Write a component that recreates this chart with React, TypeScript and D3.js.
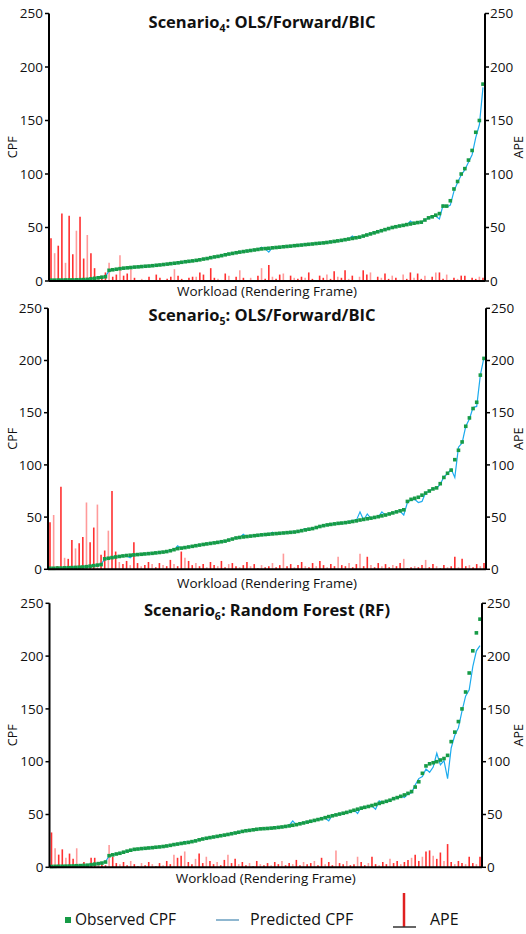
import React from 'react';
import * as d3 from 'd3';

// Scenario 4: OLS/Forward/BIC
const obs4 = [
  0.8, 0.8, 0.9, 0.9, 1, 1, 1, 1.1, 1.2, 1.3, 1.5, 2, 2.5, 3, 3.5, 4,
  10, 10.5, 11, 11.5, 12, 12.3, 12.6, 13,
  13.2, 13.5, 13.8, 14, 14.3, 14.7, 15, 15.4, 15.8,
  16.2, 16.6, 17, 17.5, 18, 18.4, 18.8, 19.3, 19.8,
  20.5, 21, 21.8, 22.5, 23, 23.7, 24.5, 25.2, 25.8,
  26.4, 27, 27.5, 28, 28.5, 29, 29.5, 30,
  30.3, 30.6, 31, 31.3, 31.6, 32, 32.3, 32.6, 33,
  33.3, 33.6, 34, 34.3, 34.6, 35, 35.3, 35.6, 36,
  36.5, 37, 37.5, 38, 38.6, 39.2, 39.8, 40.4, 41,
  42, 43, 44, 45, 46, 47, 48, 49, 50,
  50.7, 51.4, 52, 52.7, 53.3, 54, 54.6,
  55, 57, 59, 60, 61.5, 63,
  70, 70, 75, 86, 93, 100, 105, 113, 122, 139, 150, 184,
];
const pred4 = [
  1, 0.5, 1, 1.2, 0.8, 1, 1.3, 1, 1.2, 1.5, 1.4, 2.2, 2.4, 3.2, 3.4, 4.2,
  9.5, 10.8, 10.6, 12, 11.6, 12.8, 12.2, 13.4,
  12.8, 13.9, 13.5, 14.4, 14, 15.1, 14.6, 15.8, 15.5,
  16.8, 16.3, 17.4, 17.2, 18.5, 18, 19.2, 19, 20.2,
  20.2, 21.4, 21.5, 22, 23.4, 23.2, 24.8, 24.8, 26.3,
  26, 27.5, 27.2, 28.6, 28.1, 29.5, 29.1, 31.5,
  30, 27, 31.4, 31, 32, 31.7, 32.8, 32.2, 33.6,
  33, 34.2, 33.7, 34.9, 34.2, 35.6, 35, 36.1, 35.5,
  37, 36.6, 38, 37.6, 39.2, 38.8, 42, 40, 41.5,
  41.5, 43.6, 43.5, 45.6, 45.5, 47.4, 47.6, 49.6, 49.5,
  51.4, 51, 52.8, 52.2, 56, 53.6, 55.3,
  54.5, 57.5, 58.6, 60.8, 60.5, 58,
  71, 69, 71, 84, 92, 99, 104, 111, 118, 134, 146, 181,
];
const ape4 = [
  40, 26, 33, 63, 17, 61, 25, 47, 60, 21, 43, 26, 12, 3, 5, 8, 17, 4, 6, 24,
  5, 7, 11, 3, 0, 2, 1, 4, 0, 6, 3, 0, 2, 4, 11, 5, 2, 0, 3, 4,
  4, 8, 6, 0, 12, 3, 2, 1, 7, 5, 0, 4, 10, 3, 1, 3, 0, 5, 12, 2,
  15, 4, 2, 6, 7, 1, 5, 3, 2, 4, 3, 8, 2, 1, 5, 3, 6, 2, 9, 4,
  3, 10, 2, 5, 1, 4, 10, 6, 8, 0, 4, 3, 7, 2, 5, 3, 1, 6, 2, 8,
  3, 7, 2, 5, 1, 4, 8, 8, 2, 6, 1, 3, 2, 5, 5, 1, 3, 2, 4, 3,
];

// Scenario 5: OLS/Forward/BIC
const obs5 = [
  1, 1, 1.2, 1.2, 1.4, 1.5, 1.6, 1.8, 2, 2.2, 2.5, 3, 3.5, 4,
  4.5,
  10, 10.6, 11.2, 11.8, 12.3, 12.8, 13.2,
  13.5, 13.8, 14.1, 14.4, 14.7, 15, 15.3,
  15.7, 16.1, 16.5, 17, 17.8, 18.8, 19.8,
  20.3, 20.8, 21.4, 22, 22.6, 23.2, 23.8,
  24.3, 24.8, 25.3, 25.8, 26.4, 27, 28, 29, 30,
  30.5, 31, 31.4, 31.8, 32.2, 32.6, 33,
  33.3, 33.6, 33.9, 34.2, 34.5, 34.8, 35.1, 35.4, 35.7,
  36.3, 37, 37.7, 38.4, 39, 40, 41, 41.8, 42.5,
  43, 43.5, 44, 44.3, 44.7, 45.2, 45.8, 46.4, 47.2,
  47.8, 48.4, 49, 49.7, 50.4, 51.2, 52, 53, 54,
  55, 56, 57,
  65, 67, 68, 69,
  71, 73, 75, 77, 78, 82,
  88, 92, 95, 105, 114, 122, 137, 145, 154, 160, 186, 202,
];
const pred5 = [
  1.5, 0.8, 1.5, 1, 1.8, 1.2, 2, 1.6, 2.3, 2, 2.8, 2.8, 3.8, 3.6,
  5,
  9.5, 11, 10.8, 12.2, 12, 13.2, 12.8,
  11, 14.2, 13.8, 14.8, 14.3, 15.5, 15,
  16.2, 15.8, 17, 16.7, 18.4, 18.4, 22.5,
  20, 21.5, 21, 22.5, 22.2, 23.8, 23.5,
  24.8, 24.5, 25.8, 25.4, 27, 26.6, 28.6, 28.6, 30.5,
  30.2, 33.5, 31, 32.4, 31.8, 33.2, 32.6,
  33.8, 33, 35.5, 33.8, 35, 34.5, 35.6, 35, 36.3,
  35.8, 37.6, 39, 38, 39.6, 39.5, 41.5, 41.2, 43,
  42.5, 44, 43.6, 44.8, 44, 45.8, 47, 46.8, 55,
  47.2, 53, 48.6, 50.3, 50, 55, 51.6, 53.5, 53.5,
  55.6, 55.5, 52,
  64, 66.5, 67, 64,
  65, 73.5, 74.5, 77.5, 77.5, 81.5,
  88.5, 91.5, 96, 88, 117, 121, 137, 144, 155, 156, 186, 203,
];
const ape5 = [
  45, 52, 3, 79, 11, 10, 28, 20, 25, 31, 64, 26, 40, 62, 14, 18, 37, 75, 17, 7,
  5, 8, 4, 26, 6, 3, 4, 7, 5, 2, 6, 4, 3, 9, 5, 3, 17, 11, 8, 4,
  6, 3, 5, 2, 7, 4, 3, 8, 2, 5, 6, 3, 2, 4, 7, 3, 5, 1, 4, 2,
  3, 6, 2, 4, 15, 3, 5, 2, 4, 7, 3, 2, 6, 3, 8, 4, 2, 5, 3, 12,
  4, 3, 6, 2, 5, 15, 3, 12, 4, 2, 6, 3, 5, 2, 4, 3, 6, 10, 1, 2,
  3, 2, 4, 9, 2, 5, 3, 1, 4, 2, 3, 12, 2, 10, 3, 4, 2, 5, 3, 6,
];

// Scenario 6: Random Forest (RF)
const obs6 = [
  0.8, 0.9, 1, 1, 1.1, 1.2, 1.3, 1.5, 1.6, 1.8, 2, 2.5, 3, 3.5, 4,
  5,
  11, 11.8, 12.6, 13.3,
  14.3, 15.3, 16.2, 17,
  17.3, 17.7, 18, 18.3, 18.6,
  19, 19.3, 19.7, 20.2, 20.8,
  21.5, 22, 22.6, 23.1, 23.6,
  24.3, 25, 26, 26.8, 27.5,
  28.1, 28.7, 29.3, 29.9, 30.5, 31.1, 31.8,
  32.5, 33.2, 34, 34.6, 35, 35.5, 36, 36.4,
  36.6, 36.8, 37.1, 37.4, 37.8, 38.2, 38.7, 39.2, 39.8,
  40.4, 41.2, 42, 42.8, 43.6, 44.4, 45.2, 46, 47, 48,
  48.8, 49.6, 50.4, 51.2, 52, 53, 54, 55, 56,
  56.8, 57.6, 58.5, 59.5, 60.5, 61.5, 62.5, 63.5, 65,
  66, 67.2, 68.5, 70, 71.7,
  76, 81, 89, 96,
  98, 99, 100, 101.6, 103, 106,
  119, 128, 138, 150, 166, 184, 205, 222, 235,
];
const pred6 = [
  1, 0.6, 1.2, 0.8, 1.3, 1, 1.5, 1.3, 1.8, 1.6, 2.3, 2.4, 3.2, 3.4, 4.3,
  5.5,
  10.5, 12.2, 12.3, 13.8,
  14, 15.8, 16, 17.3,
  17, 18.1, 17.8, 18.8, 18.4,
  19.4, 19, 20.2, 20, 21.5,
  21, 22.6, 22.3, 24.5, 23.3,
  24, 25.5, 25.6, 27.5, 27.2,
  28.5, 28.4, 29.8, 29.5, 30.8, 30.7, 32.2,
  32.2, 33.8, 33.7, 35.2, 34.8, 35.8, 35.8, 36.8,
  36.4, 37.3, 36.8, 38, 37.5, 38.6, 38.3, 39.6, 44,
  40, 41.8, 41.6, 43.5, 43, 45, 44.8, 46.8, 46.5, 44,
  49.5, 49.2, 51, 50.8, 52.8, 52.2, 54.6, 51, 56.8,
  56.5, 58.2, 58, 55, 63, 61, 63.2, 63, 65.5,
  65.5, 67.8, 66, 69.5, 70.5,
  78, 84, 86, 93,
  90, 95, 108, 97, 101, 84,
  113, 125, 132, 148, 162, 168, 190, 205, 210,
];
const ape6 = [
  33, 18, 12, 17, 9, 13, 8, 18, 3, 5, 2, 9, 9, 4, 3, 2, 21, 10, 4, 3,
  5, 2, 6, 3, 1, 4, 2, 5, 3, 1, 4, 2, 6, 3, 12, 9, 11, 15, 5, 3,
  8, 13, 4, 10, 6, 3, 5, 2, 7, 12, 4, 8, 3, 5, 2, 4, 1, 6, 3, 2,
  4, 2, 5, 3, 6, 2, 4, 3, 7, 2, 5, 3, 4, 6, 2, 9, 3, 5, 2, 16,
  4, 3, 6, 2, 3, 10, 5, 2, 4, 10, 3, 2, 5, 3, 8, 4, 6, 3, 5, 7,
  9, 12, 6, 10, 15, 16, 11, 8, 14, 6, 22, 5, 3, 6, 4, 3, 10, 4, 3, 10,
];

const FONT = "'Open Sans', sans-serif";
const GREEN = '#169b46';
const BLUE = '#1cabee';

type PanelProps = {
  sub: string;
  rest: string;
  obs: number[];
  pred: number[];
  ape: number[];
  left: number;
  right: number;
  top: number;
  bottom: number;
  titleY: number;
  titleX: number;
  labelY: number;
};

const Panel = ({ sub, rest, obs, pred, ape, left, right, top, bottom, titleY, titleX, labelY }: PanelProps) => {
  const x = d3.scaleLinear().domain([0, obs.length - 1]).range([left + 2, right - 2]);
  const y = d3.scaleLinear().domain([0, 250]).range([bottom, top]);
  const ticks = y.ticks(5);
  const line = d3.line<number>().x((_, i) => x(i)).y(d => y(d));
  const mid = (top + bottom) / 2;

  return (
    <g>
      {/* APE bars */}
      {ape.map((v, i) => (
        <line key={'a' + i} x1={x(i)} x2={x(i)} y1={y(0)} y2={y(v)}
          stroke={i % 3 === 1 ? '#ff9a9a' : '#ff3030'} strokeWidth={1.6} />
      ))}
      <path d={line(pred) || ''} fill="none" stroke={BLUE} strokeWidth={1.2} />
      {obs.map((v, i) => (
        <rect key={'o' + i} x={x(i) - 1.8} y={y(v) - 1.8} width={3.6} height={3.6} fill={GREEN} />
      ))}

      {/* axes */}
      <line x1={left} x2={left} y1={top} y2={bottom} stroke="#000" strokeWidth={2} />
      <line x1={right} x2={right} y1={top} y2={bottom} stroke="#000" strokeWidth={2} />
      <line x1={left} x2={right} y1={bottom} y2={bottom} stroke="#000" strokeWidth={2} />
      {ticks.map(t => (
        <g key={'t' + t}>
          <line x1={left - 4} x2={left} y1={y(t)} y2={y(t)} stroke="#000" strokeWidth={1.5} />
          <text x={left - 6} y={y(t)} dy="0.35em" textAnchor="end" fontSize={13.5} fontFamily={FONT} fill="#111">{t}</text>
          <line x1={right} x2={right + 4} y1={y(t)} y2={y(t)} stroke="#000" strokeWidth={1.5} />
          <text x={right + 5} y={y(t)} dy="0.35em" textAnchor="start" fontSize={13.5} fontFamily={FONT} fill="#111">{t}</text>
        </g>
      ))}
      <text transform={`translate(17,${mid}) rotate(-90)`} textAnchor="middle" fontSize={12.5} fontFamily={FONT} fill="#111">CPF</text>
      <text transform={`translate(523,${mid}) rotate(-90)`} textAnchor="middle" fontSize={12.5} fontFamily={FONT} fill="#111">APE</text>
      <text x={titleX} y={titleY} textAnchor="middle" fontSize={16.5} fontWeight="bold" fontFamily={FONT} fill="#111">
        <tspan>Scenario</tspan>
        <tspan dy={4} fontSize={10.5}>{sub}</tspan>
        <tspan dy={-4}>{rest}</tspan>
      </text>
      <text x={(left + right) / 2} y={labelY} textAnchor="middle" fontSize={13.5} fontFamily={FONT} fill="#111">Workload (Rendering Frame)</text>
    </g>
  );
};

export default function App() {
  return (
    <svg width={526} height={934} style={{ position: 'absolute', left: 0, top: 0, background: '#fff' }}>
      <Panel sub="4" rest=": OLS/Forward/BIC" obs={obs4} pred={pred4} ape={ape4}
        left={49} right={485} top={13.5} bottom={281} titleX={262} titleY={28} labelY={296} />
      <Panel sub="5" rest=": OLS/Forward/BIC" obs={obs5} pred={pred5} ape={ape5}
        left={48} right={486} top={308.3} bottom={569.3} titleX={262} titleY={321} labelY={588} />
      <Panel sub="6" rest=": Random Forest (RF)" obs={obs6} pred={pred6} ape={ape6}
        left={49.5} right={482} top={603.3} bottom={867.3} titleX={267} titleY={616} labelY={883} />

      {/* legend */}
      <rect x={65} y={917} width={6} height={6} fill={GREEN} />
      <text x={75} y={925} fontSize={15.5} fontFamily={FONT} fill="#111">Observed CPF</text>
      <line x1={216} x2={239} y1={920} y2={920} stroke="#6a9fc0" strokeWidth={1.5} />
      <text x={250} y={925} fontSize={16} fontFamily={FONT} fill="#111">Predicted CPF</text>
      <line x1={404} x2={404} y1={893} y2={927} stroke="#e02020" strokeWidth={2.5} />
      <line x1={393} x2={416} y1={927} y2={927} stroke="#333" strokeWidth={1.5} />
      <text x={430} y={925} fontSize={16} fontFamily={FONT} fill="#111">APE</text>
    </svg>
  );
}
